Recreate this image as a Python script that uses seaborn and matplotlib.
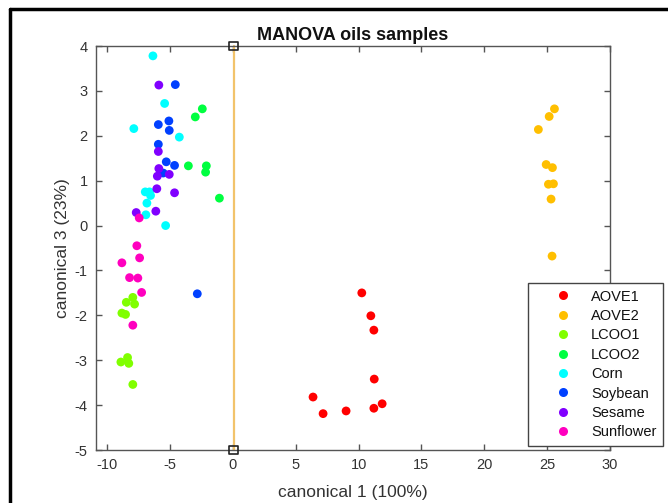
import numpy as np
import pandas as pd
import matplotlib
matplotlib.use("Agg")
import matplotlib.pyplot as plt
import seaborn as sns
from matplotlib.lines import Line2D

groups = ["AOVE1", "AOVE2", "LCOO1", "LCOO2", "Corn", "Soybean", "Sesame", "Sunflower"]
colors = ["#FF0000", "#FFBF00", "#80FF00", "#00FF40", "#00FFFF", "#0040FF", "#8000FF", "#FF00BF"]

aove1_x = [10.25, 10.97, 11.21, 11.24, 6.37, 7.17, 9.00, 11.21, 11.87]
aove1_y = [-1.50, -2.01, -2.33, -3.42, -3.82, -4.19, -4.13, -4.07, -3.97]
aove2_x = [25.58, 25.16, 24.30, 24.92, 25.42, 25.10, 25.50, 25.31, 25.39]
aove2_y = [2.60, 2.43, 2.14, 1.36, 1.29, 0.92, 0.93, 0.59, -0.68]
lcoo1_x = [-7.97, -8.49, -7.83, -8.84, -8.55, -8.39, -8.92, -8.29, -7.97]
lcoo1_y = [-1.60, -1.71, -1.75, -1.95, -1.98, -2.94, -3.04, -3.07, -3.54]
lcoo2_x = [-2.44, -3.00, -3.55, -2.12, -2.18, -1.08]
lcoo2_y = [2.60, 2.42, 1.33, 1.33, 1.19, 0.61]
corn_x = [-6.37, -5.44, -7.89, -4.27, -6.98, -6.64, -6.56, -6.85, -6.93, -5.36]
corn_y = [3.78, 2.72, 2.16, 1.97, 0.75, 0.75, 0.67, 0.50, 0.24, 0.00]
soy_x = [-4.59, -5.10, -5.94, -5.07, -5.94, -5.31, -4.65, -5.55, -2.84]
soy_y = [3.14, 2.33, 2.25, 2.12, 1.81, 1.42, 1.34, 1.17, -1.52]
ses_x = [-5.90, -5.94, -5.90, -6.02, -5.07, -6.06, -4.65, -7.70, -6.14]
ses_y = [3.13, 1.65, 1.27, 1.10, 1.14, 0.82, 0.73, 0.29, 0.32]
sun_x = [-7.46, -7.65, -7.43, -8.84, -8.23, -7.57, -7.27, -7.97]
sun_y = [0.17, -0.45, -0.72, -0.83, -1.16, -1.17, -1.49, -2.22]

line_x = [0.05, 0.05]
line_y = [-5, 4]

xs = [aove1_x, aove2_x, lcoo1_x, lcoo2_x, corn_x, soy_x, ses_x, sun_x]
ys = [aove1_y, aove2_y, lcoo1_y, lcoo2_y, corn_y, soy_y, ses_y, sun_y]
df = pd.DataFrame({
    "x": [v for g in xs for v in g],
    "y": [v for g in ys for v in g],
    "group": [name for name, g in zip(groups, xs) for _ in g],
})

sns.set_theme(style="white")
plt.rcParams["font.family"] = ["Liberation Sans", "DejaVu Sans"]
plt.rcParams["axes.unicode_minus"] = False

fig = plt.figure(figsize=(6.68, 5.03), dpi=100)
ax = fig.add_axes([96 / 668, 1 - 450 / 503, (610 - 96) / 668, (450 - 46) / 503])

ax.plot(line_x, line_y, color="#F2C36B", lw=1.6, zorder=1, clip_on=False)
ax.scatter(line_x, line_y, marker="s", s=40, facecolor="none", edgecolor="#222222",
           linewidth=1.2, zorder=3, clip_on=False)

sns.scatterplot(data=df, x="x", y="y", hue="group", hue_order=groups,
                palette=dict(zip(groups, colors)), s=40, edgecolor="none",
                linewidth=0, ax=ax, legend=False, zorder=2)

ax.set_xlim(-10.9, 30)
ax.set_ylim(-5, 4)
ax.set_xticks(np.arange(-10, 31, 5))
ax.set_yticks(np.arange(-5, 5, 1))
axcol = "#555555"
for sp in ax.spines.values():
    sp.set_color(axcol)
    sp.set_linewidth(1.0)
ax.tick_params(direction="in", length=4, width=1, color=axcol, labelcolor="#333333",
               labelsize=10.5, top=True, right=True, bottom=True, left=True, pad=6)

ax.set_xlabel("canonical 1 (100%)", fontsize=12.5, color="#333333", labelpad=9)
ax.set_ylabel("canonical 3 (23%)", fontsize=12.5, color="#333333", labelpad=3)
ax.set_title("MANOVA oils samples", fontsize=13, fontweight="bold", color="#111111", pad=4)

handles = [Line2D([0], [0], marker="o", linestyle="none", markersize=6.5,
                  markerfacecolor=c, markeredgecolor="none") for c in colors]
leg = fig.legend(handles, groups, loc="upper right",
                 bbox_to_anchor=(663 / 668, 1 - 283 / 503),
                 bbox_transform=fig.transFigure, fancybox=False, shadow=False,
                 framealpha=1, edgecolor="#444444", fontsize=10.5,
                 handletextpad=0.05, borderpad=0.45, labelspacing=0.37,
                 handlelength=3.8, borderaxespad=0)
leg.get_frame().set_linewidth(1.0)
for t in leg.get_texts():
    t.set_color("#111111")

# outer figure frame (left and top edges visible)
fig.add_artist(Line2D([10 / 668, 10 / 668], [0, 1 - 9 / 503], color="black", lw=2.5,
                      transform=fig.transFigure))
fig.add_artist(Line2D([10 / 668, 1], [1 - 9 / 503, 1 - 9 / 503], color="black", lw=2.5,
                      transform=fig.transFigure))

fig.savefig("out.png", dpi=100)
